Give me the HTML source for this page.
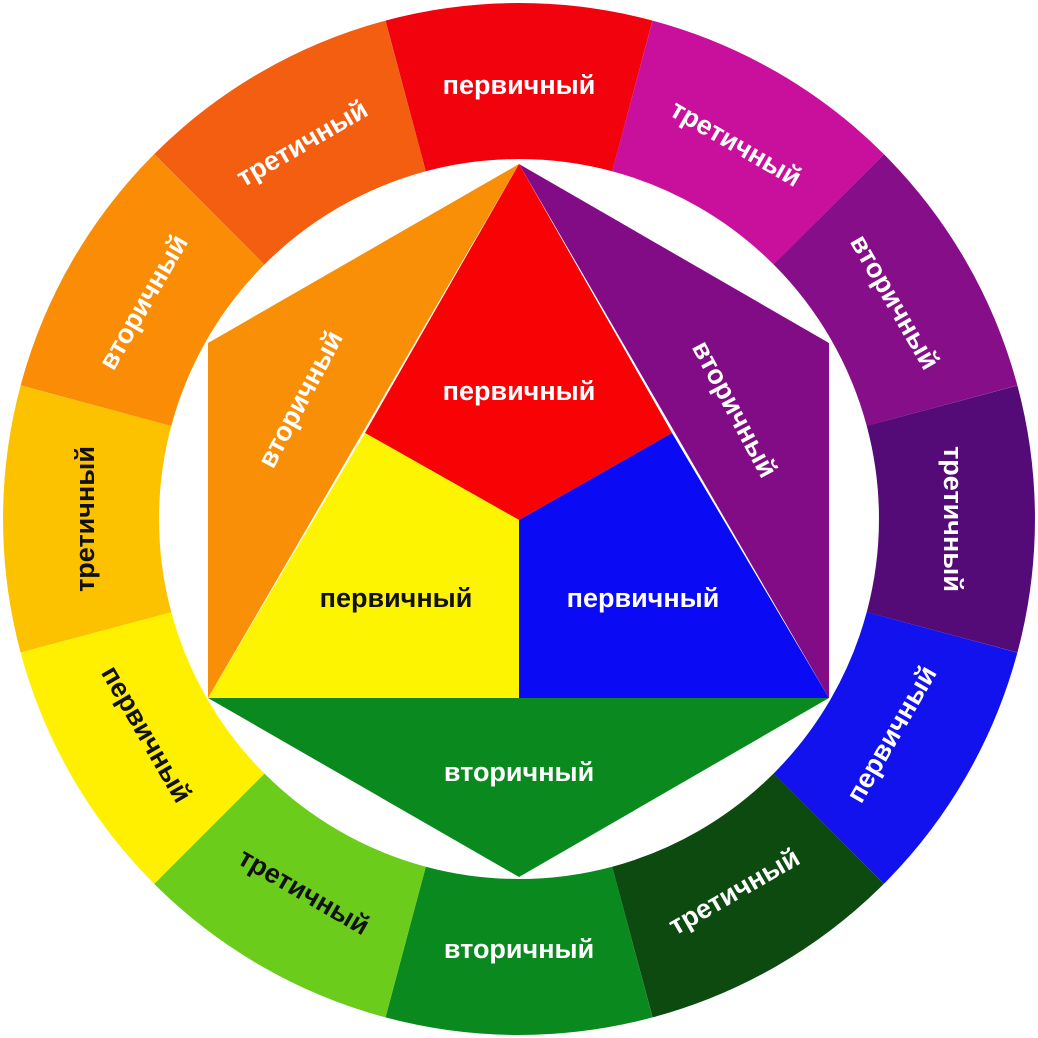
<!DOCTYPE html>
<html><head><meta charset="utf-8"><style>
html,body{margin:0;padding:0;background:#fff;}
svg{display:block;}
text{font-family:"Liberation Sans","DejaVu Sans",sans-serif;font-size:27px;font-weight:bold;dominant-baseline:middle;text-anchor:middle;}
</style></head><body>
<svg width="1038" height="1038" viewBox="0 0 1038 1038">
<defs>
<path id="seg" d="M385.5,20.6 A516,516 0 0 1 652.5,20.6 L612.2,171.3 A360,360 0 0 0 425.8,171.3 Z"/>
</defs>
<g>
<use href="#seg" fill="#f2020c" transform="rotate(0 519 519)"/>
<use href="#seg" fill="#c9109c" transform="rotate(30 519 519)"/>
<use href="#seg" fill="#860e88" transform="rotate(60 519 519)"/>
<use href="#seg" fill="#540b78" transform="rotate(90 519 519)"/>
<use href="#seg" fill="#1212ee" transform="rotate(120 519 519)"/>
<use href="#seg" fill="#0c4a10" transform="rotate(150 519 519)"/>
<use href="#seg" fill="#0a8a1e" transform="rotate(180 519 519)"/>
<use href="#seg" fill="#6ccc1c" transform="rotate(210 519 519)"/>
<use href="#seg" fill="#fff000" transform="rotate(240 519 519)"/>
<use href="#seg" fill="#fcc200" transform="rotate(270 519 519)"/>
<use href="#seg" fill="#fa8c06" transform="rotate(300 519 519)"/>
<use href="#seg" fill="#f45e10" transform="rotate(330 519 519)"/>
</g>
<g fill="#fff">
<text x="519" y="87" transform="rotate(0 519 519)">первичный</text>
<text x="519" y="87" transform="rotate(30 519 519)">третичный</text>
<text x="519" y="87" transform="rotate(60 519 519)">вторичный</text>
<text x="519" y="87" transform="rotate(90 519 519)">третичный</text>
<text x="519" y="951" transform="rotate(-60 519 519)">первичный</text>
<text x="519" y="951" transform="rotate(-30 519 519)">третичный</text>
<text x="519" y="951" transform="rotate(0 519 519)">вторичный</text>
<text x="519" y="951" transform="rotate(30 519 519)" fill="#111">третичный</text>
<text x="519" y="951" transform="rotate(60 519 519)" fill="#111">первичный</text>
<text x="519" y="87" transform="rotate(-90 519 519)" fill="#111">третичный</text>
<text x="519" y="87" transform="rotate(-60 519 519)">вторичный</text>
<text x="519" y="87" transform="rotate(-30 519 519)">третичный</text>
</g>
<polygon points="519,164 208,343 208,698" fill="#f98f06"/>
<polygon points="519,164 829,343 829,698" fill="#820c86"/>
<polygon points="208,698 829,698 519,877" fill="#0a8a1e"/>
<polygon points="519,164 672,433 519,520 365,433" fill="#f80206"/>
<polygon points="365,433 519,520 519,698 208,698" fill="#fcf400"/>
<polygon points="672,433 829,698 519,698 519,520" fill="#0a0af4"/>
<g fill="#fff">
<text x="519" y="393">первичный</text>
<text x="396" y="600" fill="#111">первичный</text>
<text x="643" y="600">первичный</text>
<text x="519" y="774">вторичный</text>
<text x="302" y="400" transform="rotate(-62 302 400)">вторичный</text>
<text x="733" y="410" transform="rotate(62 733 410)">вторичный</text>
</g>
</svg>
</body></html>
